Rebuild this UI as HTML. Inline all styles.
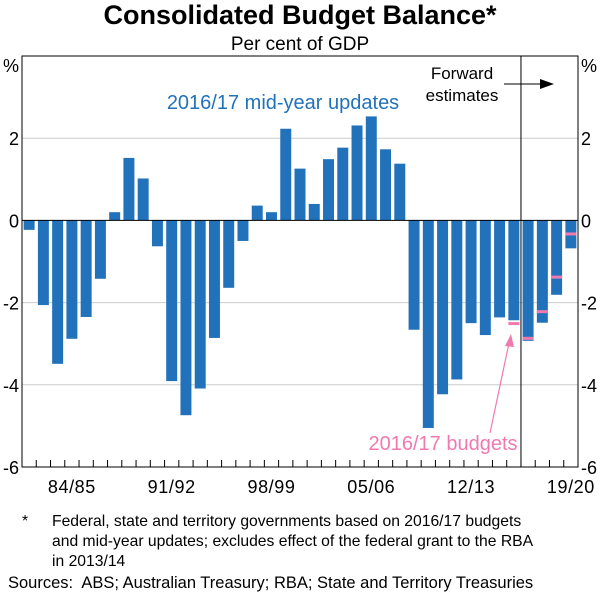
<!DOCTYPE html>
<html><head><meta charset="utf-8"><style>
body{margin:0;background:#fff;font-family:"Liberation Sans",sans-serif}
svg text{font-family:"Liberation Sans",sans-serif}
</style></head><body>
<svg id="c" width="600" height="595" xmlns="http://www.w3.org/2000/svg">
<text x="300" y="24" text-anchor="middle" font-size="27" font-weight="bold">Consolidated Budget Balance*</text>
<text x="300" y="50" text-anchor="middle" font-size="19">Per cent of GDP</text>
<g id="grid"></g><g id="bars"></g><g id="axes"></g>
<text x="283" y="109" text-anchor="middle" font-size="20" fill="#2272bb">2016/17 mid-year updates</text>
<text x="443" y="450" text-anchor="middle" font-size="20" fill="#f07ab0">2016/17 budgets</text>
<line x1="490" y1="433" x2="509" y2="343" stroke="#f07ab0" stroke-width="1.2"/>
<polygon points="511,334 505,346 514,347" fill="#f07ab0"/>
<text x="462" y="79" text-anchor="middle" font-size="17">Forward</text>
<text x="462" y="101" text-anchor="middle" font-size="17">estimates</text>
<line x1="504" y1="84" x2="545" y2="84" stroke="#000" stroke-width="1"/>
<polygon points="554,84 540,79 540,89" fill="#000"/>
<text x="22" y="526" font-size="15.7">*</text>
<text x="52" y="526" font-size="15.7">Federal, state and territory governments based on 2016/17 budgets</text>
<text x="52" y="546" font-size="15.7">and mid-year updates; excludes effect of the federal grant to the RBA</text>
<text x="52" y="566" font-size="15.7">in 2013/14</text>
<text x="8" y="588" font-size="16.5" xml:space="preserve">Sources:  ABS; Australian Treasury; RBA; State and Territory Treasuries</text>
</svg>
<script>
const midYear=[-0.23,-2.06,-3.49,-2.88,-2.35,-1.42,0.2,1.52,1.02,-0.63,-3.91,-4.74,-4.09,-2.86,-1.64,-0.5,0.36,0.2,2.23,1.26,0.4,1.49,1.77,2.31,2.53,1.73,1.38,-2.66,-5.05,-4.23,-3.87,-2.5,-2.79,-2.36,-2.43,-2.93,-2.49,-1.81,-0.68];
const budgets=[null,null,null,null,null,null,null,null,null,null,null,null,null,null,null,null,null,null,null,null,null,null,null,null,null,null,null,null,null,null,null,null,null,null,-2.51,-2.87,-2.22,-1.38,-0.33];
const xLabels={3:"84/85",10:"91/92",17:"98/99",24:"05/06",31:"12/13",38:"19/20"};
const yTicks=[-6,-4,-2,0,2];
const forwardStart=35;
const NS="http://www.w3.org/2000/svg";
const L=22,R=578,T=56,B=467,yMin=-6,yMax=4;
const y=v=>B-(v-yMin)/(yMax-yMin)*(B-T);
const n=midYear.length,step=(R-L)/n;
const x=i=>L+i*step;
function mk(tag,a,p){const e=document.createElementNS(NS,tag);for(const k in a)e.setAttribute(k,a[k]);p.appendChild(e);return e;}
const grid=document.getElementById('grid'),bars=document.getElementById('bars'),axes=document.getElementById('axes');
yTicks.forEach(t=>{
 if(t>yMin&&t!==0){const g=mk('line',{x1:L,x2:R,y1:y(t),y2:y(t),stroke:'#ccc','stroke-width':1},grid);
 
 }
 const a=mk('text',{x:L-3,y:y(t)+7,'text-anchor':'end','font-size':18},axes);a.textContent=t;
 
 
 const b=mk('text',{x:R+3,y:y(t)+7,'font-size':18},axes);b.textContent=t;
 
 
});
[3,R+3].forEach(px=>{const p=mk('text',{x:px,y:T+16,'font-size':18},axes);p.textContent='%';
 
 });
midYear.forEach((v,i)=>{
 const bw=step*0.77,bx=x(i)+(step-bw)/2;
 const r=mk('rect',{x:bx,y:Math.min(y(v),y(0)),width:bw,height:Math.abs(y(v)-y(0)),fill:'#2272bb'},bars);
 
 
 if(budgets[i]!==null){const m=mk('rect',{x:bx,y:y(budgets[i])-1.5,width:bw,height:3,fill:'#f07ab0'},bars);
 
 }
});
mk('line',{x1:L,x2:R,y1:y(0),y2:y(0),stroke:'#000','stroke-width':1},axes);
mk('rect',{x:L,y:T,width:R-L,height:B-T,fill:'none',stroke:'#000','stroke-width':1},axes);
mk('line',{x1:x(forwardStart),x2:x(forwardStart),y1:T,y2:B,stroke:'#000','stroke-width':1},axes);
for(let i=1;i<n;i++)mk('line',{x1:x(i),x2:x(i),y1:B,y2:B-7,stroke:'#000','stroke-width':1},axes);
for(const k in xLabels){const t=mk('text',{x:x(+k)+step/2,y:B+26,'text-anchor':'middle','font-size':18,'word-spacing':'0','letter-spacing':'0.6'},axes);t.textContent=xLabels[k];
 
 }
</script>
</body></html>
